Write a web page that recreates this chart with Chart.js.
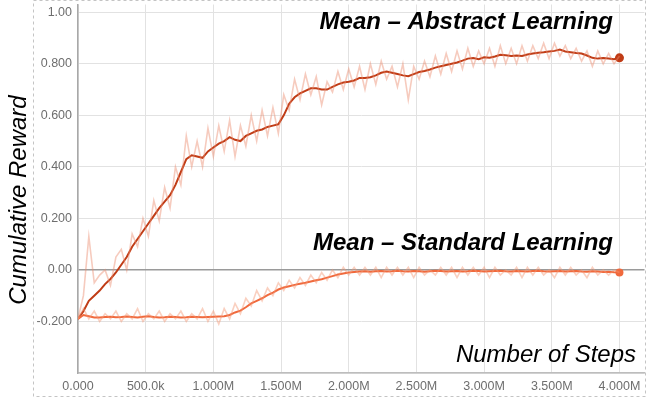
<!DOCTYPE html>
<html>
<head>
<meta charset="utf-8">
<script src="https://cdn.jsdelivr.net/npm/chart.js@4/dist/chart.umd.min.js"></script>
<style>
html,body{margin:0;padding:0;background:#fff;}
#wrap{position:relative;width:649px;height:398px;}
</style>
</head>
<body>
<div id="wrap"><canvas id="c" width="649" height="398"></canvas></div>
<script>
// steps in thousands
const stepsK = [0,40,80,120,160,200,240,280,320,360,400,440,480,520,560,600,640,680,720,760,800,840,880,920,960,1000,1040,1080,1120,1160,1200,1240,1280,1320,1360,1400,1440,1480,1520,1560,1600,1640,1680,1720,1760,1800,1840,1880,1920,1960,2000,2040,2080,2120,2160,2200,2240,2280,2320,2360,2400,2440,2480,2520,2560,2600,2640,2680,2720,2760,2800,2840,2880,2920,2960,3000,3040,3080,3120,3160,3200,3240,3280,3320,3360,3400,3440,3480,3520,3560,3600,3640,3680,3720,3760,3800,3840,3880,3920,3960,4000];

const abstractSmooth = [-0.19,-0.16,-0.12,-0.10,-0.08,-0.055,-0.035,-0.01,0.02,0.05,0.09,0.12,0.15,0.18,0.21,0.24,0.265,0.29,0.33,0.38,0.43,0.445,0.44,0.435,0.46,0.475,0.49,0.50,0.515,0.505,0.50,0.52,0.53,0.54,0.545,0.555,0.56,0.565,0.60,0.645,0.67,0.685,0.695,0.705,0.705,0.70,0.70,0.71,0.72,0.727,0.73,0.735,0.745,0.745,0.748,0.755,0.765,0.77,0.765,0.76,0.755,0.752,0.76,0.768,0.772,0.778,0.785,0.79,0.795,0.80,0.805,0.812,0.82,0.822,0.818,0.825,0.823,0.828,0.835,0.833,0.83,0.832,0.83,0.836,0.84,0.843,0.845,0.848,0.85,0.855,0.848,0.845,0.842,0.84,0.832,0.823,0.82,0.822,0.82,0.818,0.823];

const abstractRaw = [-0.19,-0.10,0.13,-0.05,-0.02,0.00,-0.06,0.05,0.08,0.00,0.14,0.09,0.20,0.13,0.27,0.19,0.32,0.24,0.40,0.33,0.52,0.40,0.50,0.40,0.55,0.44,0.56,0.46,0.58,0.44,0.56,0.48,0.60,0.50,0.62,0.52,0.63,0.53,0.68,0.62,0.74,0.66,0.76,0.68,0.75,0.64,0.73,0.69,0.77,0.70,0.78,0.71,0.79,0.70,0.80,0.72,0.81,0.74,0.79,0.71,0.80,0.66,0.79,0.74,0.81,0.75,0.83,0.76,0.84,0.77,0.85,0.78,0.86,0.79,0.85,0.80,0.86,0.79,0.87,0.80,0.86,0.80,0.87,0.81,0.87,0.82,0.88,0.82,0.88,0.83,0.87,0.82,0.86,0.81,0.85,0.79,0.85,0.80,0.84,0.80,0.83];

const standardSmooth = [-0.19,-0.175,-0.18,-0.185,-0.185,-0.183,-0.182,-0.184,-0.183,-0.181,-0.183,-0.185,-0.182,-0.18,-0.183,-0.185,-0.184,-0.182,-0.183,-0.185,-0.184,-0.182,-0.183,-0.184,-0.183,-0.182,-0.181,-0.18,-0.175,-0.165,-0.158,-0.145,-0.13,-0.12,-0.11,-0.098,-0.088,-0.076,-0.068,-0.063,-0.058,-0.054,-0.05,-0.045,-0.04,-0.036,-0.03,-0.024,-0.018,-0.014,-0.01,-0.008,-0.006,-0.005,-0.007,-0.005,-0.004,-0.006,-0.005,-0.003,-0.005,-0.006,-0.004,-0.005,-0.007,-0.005,-0.003,-0.004,-0.006,-0.005,-0.004,-0.006,-0.005,-0.003,-0.004,-0.006,-0.005,-0.004,-0.003,-0.005,-0.006,-0.004,-0.005,-0.006,-0.004,-0.003,-0.005,-0.006,-0.005,-0.004,-0.006,-0.005,-0.004,-0.006,-0.007,-0.005,-0.006,-0.008,-0.007,-0.009,-0.01];

const standardRaw = [-0.19,-0.15,-0.19,-0.16,-0.20,-0.17,-0.19,-0.16,-0.20,-0.17,-0.19,-0.15,-0.20,-0.17,-0.19,-0.16,-0.20,-0.17,-0.19,-0.16,-0.20,-0.17,-0.19,-0.15,-0.20,-0.16,-0.21,-0.15,-0.19,-0.13,-0.17,-0.11,-0.14,-0.08,-0.12,-0.07,-0.10,-0.05,-0.08,-0.04,-0.07,-0.03,-0.06,-0.02,-0.05,-0.01,-0.04,0.00,-0.03,0.01,-0.02,0.01,-0.02,0.01,-0.02,0.01,-0.03,0.01,-0.02,0.01,-0.02,0.01,-0.03,0.01,-0.02,0.00,-0.02,0.01,-0.02,0.01,-0.03,0.01,-0.02,0.01,-0.02,0.01,-0.03,0.01,-0.02,0.00,-0.02,0.01,-0.03,0.01,-0.02,0.01,-0.02,0.00,-0.03,0.01,-0.02,0.01,-0.02,0.00,-0.03,0.01,-0.02,0.00,-0.02,0.00,-0.01];

const xTicks = [0,500000,1000000,1500000,2000000,2500000,3000000,3500000,4000000];
const xTickLabels = ['0.000','500.0k','1.000M','1.500M','2.000M','2.500M','3.000M','3.500M','4.000M'];
const yTicks = [-0.4,-0.2,0,0.2,0.4,0.6,0.8,1.0];
const yTickLabels = ['','-0.200','0.00','0.200','0.400','0.600','0.800','1.00'];

const seriesNames = ['Mean \u2013 Abstract Learning','Mean \u2013 Standard Learning'];
const xTitle = 'Number of Steps';
const yTitle = 'Cumulative Reward';

function pts(vals){ return vals.map((v,i)=>({x:stepsK[i]*1000,y:v})); }
const last = stepsK.length-1;

const textPlugin = {
  id:'texts',
  afterDraw(chart){
    const ctx = chart.ctx;
    ctx.save();
    // dashed frame
    ctx.setLineDash([3,3]);
    ctx.strokeStyle = '#c4c4c4';
    ctx.lineWidth = 1;
    ctx.strokeRect(33.5,0.5,612,396);
    ctx.setLineDash([]);
    ctx.fillStyle = '#000';
    ctx.textAlign = 'right';
    ctx.textBaseline = 'alphabetic';
    ctx.font = 'italic bold 24px "Liberation Sans", Arial, sans-serif';
    ctx.fillText(seriesNames[0], 613, 29);
    ctx.fillText(seriesNames[1], 613, 250);
    ctx.font = 'italic 24px "Liberation Sans", Arial, sans-serif';
    ctx.fillText(xTitle, 636, 362);
    ctx.translate(26, 200);
    ctx.rotate(-Math.PI/2);
    ctx.textAlign = 'center';
    ctx.fillText(yTitle, 0, 0);
    ctx.restore();
  }
};

const tickFont = {family:'"Liberation Sans", Arial, sans-serif', size:12.5};

new Chart(document.getElementById('c'), {
  type:'line',
  data:{
    datasets:[
      {data:pts(standardRaw), borderColor:'rgba(245,150,115,0.45)', borderWidth:1.6, pointRadius:0, tension:0},
      {data:pts(abstractRaw), borderColor:'rgba(235,140,110,0.45)', borderWidth:1.6, pointRadius:0, tension:0},
      {data:pts(standardSmooth), borderColor:'#f0693c', backgroundColor:'#f0693c', borderWidth:2, tension:0,
        pointRadius:c=>c.dataIndex===last?4:0, pointBorderWidth:0},
      {data:pts(abstractSmooth), borderColor:'#c03c16', backgroundColor:'#c03c16', borderWidth:2, tension:0,
        pointRadius:c=>c.dataIndex===last?4.5:0, pointBorderWidth:0}
    ]
  },
  options:{
    responsive:false,
    animation:false,
    layout:{padding:{left:0,top:1,right:4,bottom:0}},
    plugins:{legend:{display:false},tooltip:{enabled:false}},
    scales:{
      x:{
        type:'linear', min:0, max:4185000,
        afterBuildTicks:s=>{s.ticks = xTicks.map(v=>({value:v}));},
        afterFit:s=>{s.height = 25; s.paddingLeft = 0; s.paddingRight = 0;},
        grid:{color:'#e2e2e2', lineWidth:1, drawTicks:false},
        border:{color:'#bdbdbd', width:1.5},
        ticks:{font:tickFont, color:'#6e6e6e', padding:6, maxRotation:0, autoSkip:false,
          callback:(v)=>{const i = xTicks.indexOf(v); return i>=0?xTickLabels[i]:'';}}
      },
      y:{
        min:-0.4, max:1.03,
        afterBuildTicks:s=>{s.ticks = yTicks.map(v=>({value:v}));},
        afterFit:s=>{s.width = 78; s.paddingTop = 0; s.paddingBottom = 0;},
        grid:{color:c=>Math.abs(c.tick.value)<1e-9?'#9a9a9a':'#e2e2e2', lineWidth:c=>Math.abs(c.tick.value)<1e-9?1.5:1, drawTicks:false},
        border:{color:'#a8a8a8', width:1.5},
        ticks:{font:tickFont, color:'#6e6e6e', padding:6,
          callback:(v)=>{const i = yTicks.findIndex(t=>Math.abs(t-v)<1e-9); return i>=0?yTickLabels[i]:'';}}
      }
    }
  },
  plugins:[textPlugin]
});
</script>
</body>
</html>
